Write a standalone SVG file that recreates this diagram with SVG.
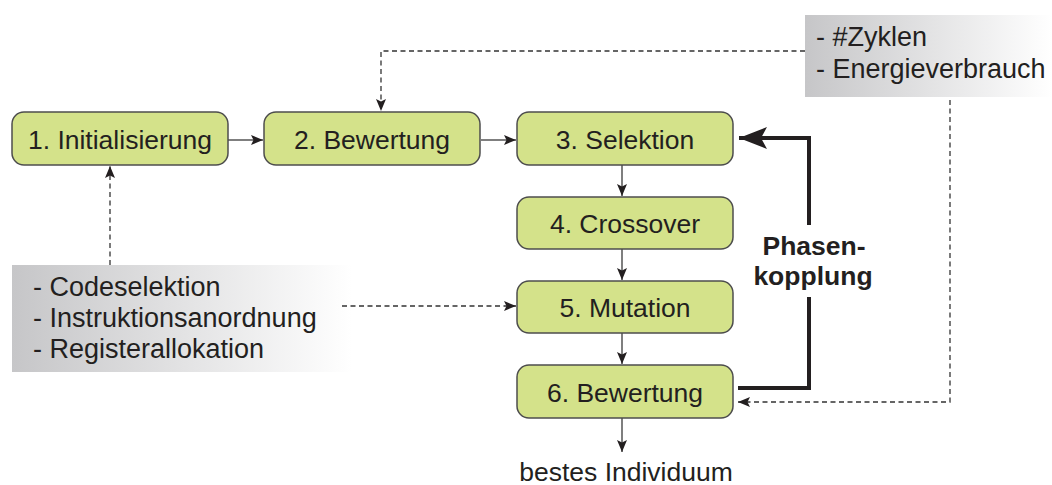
<svg xmlns="http://www.w3.org/2000/svg" width="1052" height="485" viewBox="0 0 1052 485">
  <style>
    .node rect { fill: #d4e28a; stroke: #4d4d4d; stroke-width: 1.5; }
    .node text, .note text, .out { font-family: "Liberation Sans", Arial, sans-serif; font-size: 26.5px; fill: #231f20; }
    .node text { text-anchor: middle; }
    .note text { font-size: 27px; }
    .flow { fill: none; stroke: #555; stroke-width: 1.5; }
    .dash { fill: none; stroke: #333; stroke-width: 1.3; stroke-dasharray: 5 3.5; }
    .phase { fill: none; stroke: #231f20; stroke-width: 4; }
    .phase-label { font-family: "Liberation Sans", Arial, sans-serif; font-size: 26.5px; font-weight: bold; fill: #231f20; text-anchor: middle; }
  </style>
  <defs>
    <marker id="arrow" viewBox="0 0 12 10" refX="12" refY="5" markerWidth="12" markerHeight="10" markerUnits="userSpaceOnUse" orient="auto">
      <path d="M0,0 L12,5 L0,10 L2.5,5 Z" fill="#231f20"/>
    </marker>
    <marker id="bigarrow" viewBox="0 0 28 22" refX="28" refY="11" markerWidth="28" markerHeight="22" markerUnits="userSpaceOnUse" orient="auto">
      <path d="M0,0 L28,11 L0,22 L6,11 Z" fill="#231f20"/>
    </marker>
    <linearGradient id="fade" x1="0" y1="0" x2="1" y2="0">
      <stop offset="0" stop-color="#c6c6c8"/>
      <stop offset="1" stop-color="#ffffff"/>
    </linearGradient>
  </defs>

  <!-- side notes -->
  <g id="note-metrics" class="note">
    <rect x="805" y="15" width="247" height="82" fill="url(#fade)"/>
    <text x="816" y="46">- #Zyklen</text>
    <text x="816" y="78">- Energieverbrauch</text>
  </g>
  <g id="note-backend" class="note">
    <rect x="12" y="265" width="340" height="107" fill="url(#fade)"/>
    <text x="33" y="296">- Codeselektion</text>
    <text x="33" y="327">- Instruktionsanordnung</text>
    <text x="33" y="358">- Registerallokation</text>
  </g>

  <!-- connectors -->
  <g id="connectors">
    <line class="flow" x1="228" y1="140" x2="263" y2="140" marker-end="url(#arrow)"/>
    <line class="flow" x1="481" y1="140" x2="516" y2="140" marker-end="url(#arrow)"/>
    <line class="flow" x1="622" y1="165" x2="622" y2="196" marker-end="url(#arrow)"/>
    <line class="flow" x1="622" y1="249" x2="622" y2="280" marker-end="url(#arrow)"/>
    <line class="flow" x1="622" y1="333" x2="622" y2="364" marker-end="url(#arrow)"/>
    <line class="flow" x1="622" y1="418" x2="622" y2="452" marker-end="url(#arrow)"/>
    <polyline class="dash" points="805,51 381,51 381,111" marker-end="url(#arrow)"/>
    <polyline class="dash" points="950,100 950,402 738,402" marker-end="url(#arrow)"/>
    <line class="dash" x1="110" y1="265" x2="110" y2="166" marker-end="url(#arrow)"/>
    <line class="dash" x1="342" y1="306" x2="516" y2="306" marker-end="url(#arrow)"/>
    <polyline class="phase" points="738,388 809,388 809,297"/>
    <polyline class="phase" points="809,225 809,138 739,138" marker-end="url(#bigarrow)"/>
    <text class="phase-label" x="814" y="255">Phasen-</text>
    <text class="phase-label" x="813" y="285">kopplung</text>
  </g>

  <!-- process steps -->
  <g id="step1" class="node">
    <rect x="12" y="112" width="216" height="53" rx="12"/>
    <text x="120" y="148.5">1. Initialisierung</text>
  </g>
  <g id="step2" class="node">
    <rect x="264" y="112" width="216" height="53" rx="12"/>
    <text x="372" y="148.5">2. Bewertung</text>
  </g>
  <g id="step3" class="node">
    <rect x="517" y="112" width="216" height="53" rx="12"/>
    <text x="625" y="148.5">3. Selektion</text>
  </g>
  <g id="step4" class="node">
    <rect x="517" y="197" width="216" height="52" rx="12"/>
    <text x="625" y="232.5">4. Crossover</text>
  </g>
  <g id="step5" class="node">
    <rect x="517" y="281" width="216" height="52" rx="12"/>
    <text x="625" y="316.5">5. Mutation</text>
  </g>
  <g id="step6" class="node">
    <rect x="517" y="365" width="216" height="53" rx="12"/>
    <text x="625" y="401.5">6. Bewertung</text>
  </g>

  <text class="out" x="626" y="481" text-anchor="middle">bestes Individuum</text>
</svg>
